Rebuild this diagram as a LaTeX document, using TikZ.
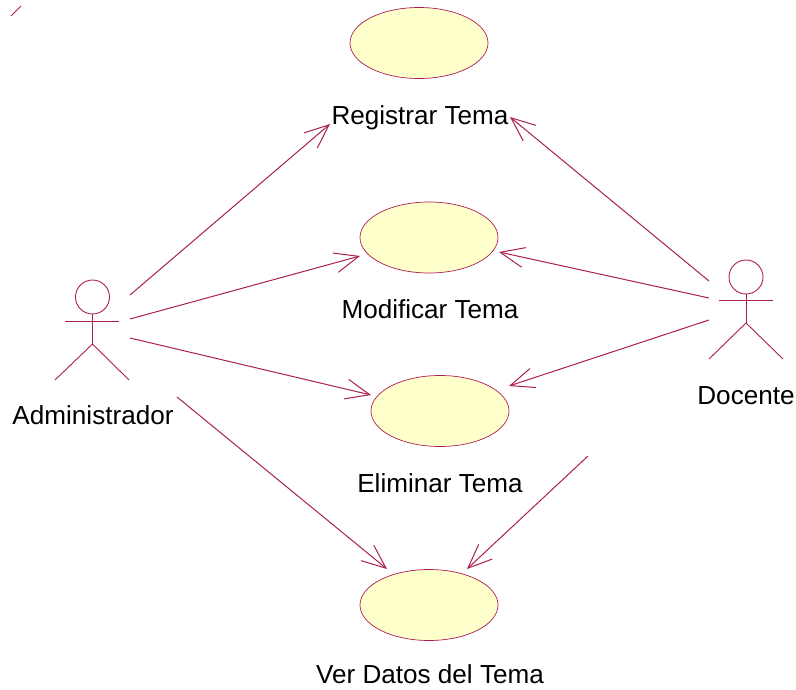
\documentclass[tikz,border=0pt]{standalone}
\usepackage{fontspec}
\setmainfont{Liberation Sans}
\usetikzlibrary{arrows.meta,shapes.geometric}
\definecolor{umlline}{RGB}{170,30,80}
\definecolor{umlfill}{RGB}{255,255,204}
\tikzset{
  usecase/.style={draw=umlline,fill=umlfill,ellipse,line width=0.7pt,minimum width=138pt,minimum height=71pt,inner sep=0pt,outer sep=0pt},
  lbl/.style={font=\fontsize{26.1pt}{30pt}\selectfont,text=black,inner sep=0pt,anchor=base},
  assoc/.style={draw=umlline,line width=1pt,-{Straight Barb[length=24pt,width=20pt,line width=1pt]}},
  stick/.style={draw=umlline,line width=0.9pt}
}
\begin{document}
\begin{tikzpicture}[x=1pt,y=-1pt]
\useasboundingbox (0,0) rectangle (796,689);
% use cases
\node[usecase] (uc1) at (419,43) {};
\node[usecase] (uc2) at (429,237.5) {};
\node[usecase] (uc3) at (440,411) {};
\node[usecase] (uc4) at (429,605) {};
\node[lbl] (l1) at (420,124) {Registrar Tema};
\node[lbl] (l2) at (430,318) {Modificar Tema};
\node[lbl] (l3) at (440,492) {Eliminar Tema};
\node[lbl] (l4) at (430,683.5) {Ver Datos del Tema};
% actor Administrador
\node[stick,circle,minimum size=34pt,inner sep=0pt,outer sep=0pt] (h1) at (92.5,297) {};
\coordinate (a1l) at (65,321.5); \coordinate (a1r) at (119,321.5);
\coordinate (a1h) at (92.5,344); \coordinate (a1f) at (55,380); \coordinate (a1g) at (129,380);
\draw[stick] (h1.south) -- (a1h);
\draw[stick] (a1l) -- (a1r);
\draw[stick] (a1f) -- (a1h) -- (a1g);
\node[lbl] (n1) at (93,424) {Administrador};
% actor Docente
\node[stick,circle,minimum size=34pt,inner sep=0pt,outer sep=0pt] (h2) at (746,277) {};
\coordinate (a2l) at (719,300.5); \coordinate (a2r) at (773,300.5);
\coordinate (a2h) at (746,323); \coordinate (a2f) at (709,359); \coordinate (a2g) at (783,359);
\draw[stick] (h2.south) -- (a2h);
\draw[stick] (a2l) -- (a2r);
\draw[stick] (a2f) -- (a2h) -- (a2g);
\node[lbl] (n2) at (746,404) {Docente};
% connector ends
\coordinate (s1) at (130,295); \coordinate (e1) at (330,124);
\coordinate (s2) at (130,319); \coordinate (e2) at (360,256);
\coordinate (s3) at (130,338); \coordinate (e3) at (371,395);
\coordinate (s4) at (177,397); \coordinate (e4) at (387,569);
\coordinate (s5) at (709,281); \coordinate (e5) at (510,117);
\coordinate (s6) at (709,298); \coordinate (e6) at (499,252);
\coordinate (s7) at (709,320); \coordinate (e7) at (509,386);
\coordinate (s8) at (588,456); \coordinate (e8) at (467,569);
\foreach \i in {1,...,8} {\draw[assoc] (s\i) -- (e\i);}
% stray stroke
\coordinate (t1) at (11,16); \coordinate (t2) at (21,6);
\draw[stick] (t1) -- (t2);
\end{tikzpicture}
\end{document}
